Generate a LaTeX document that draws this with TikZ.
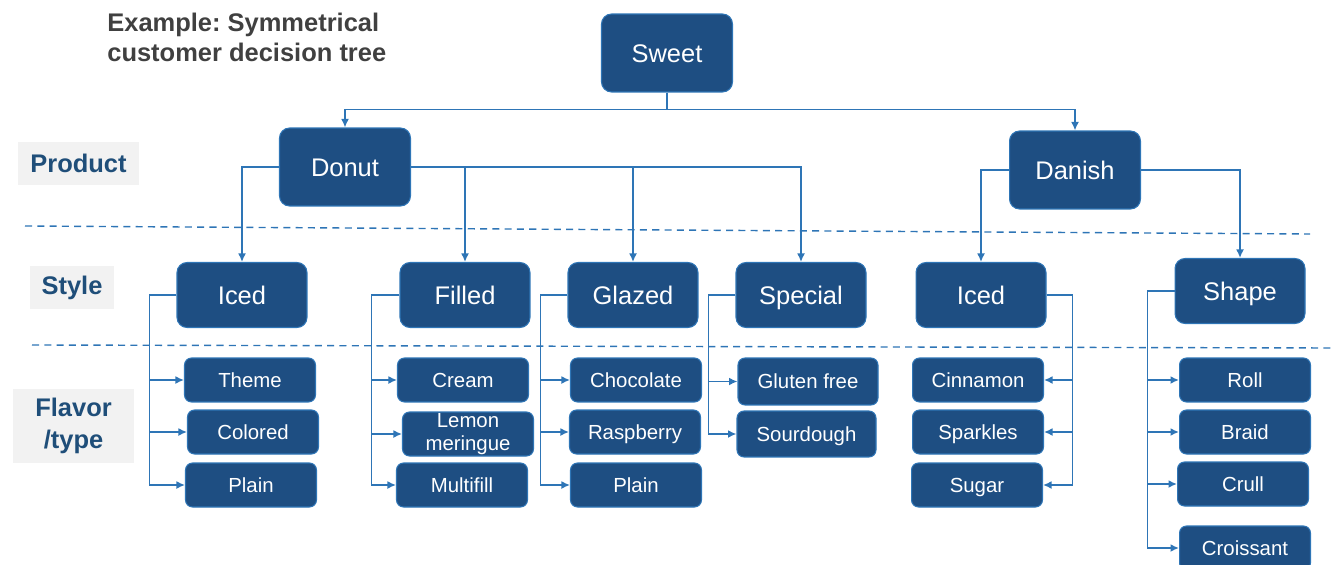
\documentclass[tikz,border=0pt]{standalone}
\usepackage{fontspec}
\setmainfont{Liberation Sans}
\usetikzlibrary{arrows.meta, positioning}
\frenchspacing
\definecolor{boxBlue}{HTML}{1E4E82}
\definecolor{edgeBlue}{HTML}{2E75B6}
\definecolor{labelBlue}{HTML}{1F4E79}
\definecolor{labelGray}{HTML}{F2F2F2}
\definecolor{titleGray}{HTML}{404040}
\tikzset{
    treeBox/.style={draw=edgeBlue, fill=boxBlue, text=white, line width=0.6pt, inner sep=0pt, minimum width=2.62cm, align=center, text depth=0pt},
    topBox/.style={treeBox, rounded corners=0.2cm, minimum height=1.56cm, text height=10.4pt, font=\fontsize{14.5}{17}\selectfont},
    styleBox/.style={treeBox, rounded corners=0.2cm, minimum width=2.6cm, minimum height=1.3cm, text height=10.4pt, font=\fontsize{14.5}{17}\selectfont},
    flavorBox/.style={treeBox, rounded corners=0.14cm, minimum height=0.88cm, text height=8.3pt, font=\fontsize{11.6}{13.4}\selectfont},
    rowLabel/.style={fill=labelGray, text=labelBlue, font=\bfseries\fontsize{14.5}{18}\selectfont, align=center, inner sep=0pt},
    linkArrow/.style={-{Latex[length=1.7mm, width=1.6mm]}, draw=edgeBlue, line width=1.1pt},
    rowSep/.style={draw=edgeBlue, dash pattern=on 4pt off 3pt, line width=0.8pt}
}

\begin{document}
\begin{tikzpicture}[x=0.02cm, y=-0.02cm]
    \useasboundingbox (0,0) rectangle (1334,564);
    \clip (0,0) rectangle (1334,564);

    % title and row labels
    \node[anchor=north west, inner sep=0pt, align=left, text=titleGray, font=\bfseries\fontsize{14.5}{17}\selectfont] (title) at (107,13) {Example: Symmetrical\\customer decision tree};
    \node[rowLabel, minimum width=2.42cm, minimum height=0.86cm] (labProduct) at (78.5,163.5) {Product};
    \node[rowLabel, minimum width=1.68cm, minimum height=0.86cm] (labStyle) at (72,287.5) {Style};
    \node[rowLabel, minimum width=2.42cm, minimum height=1.48cm] (labFlavor) at (73.5,426) {Flavor\\/type};

    % separators
    \draw[rowSep] (25,226) -- (1310,234);
    \draw[rowSep] (32,345) -- (1334,348);

    % top levels
    \node[topBox] (Sweet) at (667,53) {Sweet};
    \node[topBox] (Donut) at (345,167) {Donut};
    \node[topBox] (Danish) at (1075,170) {Danish};

    % styles
    \node[styleBox] (IcedD) at (242,295) {Iced};
    \node[styleBox] (Filled) at (465,295) {Filled};
    \node[styleBox] (Glazed) at (633,295) {Glazed};
    \node[styleBox] (Special) at (801,295) {Special};
    \node[styleBox] (IcedN) at (981,295) {Iced};
    \node[styleBox] (Shape) at (1240,291) {Shape};

    % flavors / types
    \node[flavorBox] (Theme) at (250,380) {Theme};
    \node[flavorBox] (Colored) at (253,432) {Colored};
    \node[flavorBox] (PlainI) at (251,485) {Plain};
    \node[flavorBox] (Cream) at (463,380) {Cream};
    \node[flavorBox, text height={}, text depth={}, font=\fontsize{11.6}{13.4}\selectfont] (Lemon) at (468,434) {Lemon\\meringue};
    \node[flavorBox] (Multifill) at (462,485) {Multifill};
    \node[flavorBox] (Chocolate) at (636,380) {Chocolate};
    \node[flavorBox] (Raspberry) at (635,432) {Raspberry};
    \node[flavorBox] (PlainG) at (636,485) {Plain};
    \node[flavorBox, minimum width=2.8cm, minimum height=0.94cm] (Gluten) at (808,381.5) {Gluten free};
    \node[flavorBox, minimum width=2.78cm, minimum height=0.92cm] (Sourdough) at (806.5,434) {Sourdough};
    \node[flavorBox] (Cinnamon) at (978,380) {Cinnamon};
    \node[flavorBox] (Sparkles) at (978,432) {Sparkles};
    \node[flavorBox] (Sugar) at (977,485) {Sugar};
    \node[flavorBox] (Roll) at (1245,380) {Roll};
    \node[flavorBox] (Braid) at (1245,432) {Braid};
    \node[flavorBox] (Crull) at (1243,484) {Crull};
    \node[flavorBox] (Croissant) at (1245,548) {Croissant};

    % sweet to products
    \draw[linkArrow] (Sweet.south) -- ++(0,17) -| (Donut.north);
    \draw[linkArrow] (Sweet.south) -- ++(0,17) -| (Danish.north);

    % products to styles
    \draw[linkArrow] (Donut.west) -| (IcedD.north);
    \draw[linkArrow] (Donut.east) -| (Filled.north);
    \draw[linkArrow] (Donut.east) -| (Glazed.north);
    \draw[linkArrow] (Donut.east) -| (Special.north);
    \draw[linkArrow] (Danish.west) -| (IcedN.north);
    \draw[linkArrow] (Danish.east) -| (Shape.north);

    % styles to flavors
    \draw[linkArrow] (IcedD.west) -- ++(-27,0) |- (Theme.west);
    \draw[linkArrow] (IcedD.west) -- ++(-27,0) |- (Colored.west);
    \draw[linkArrow] (IcedD.west) -- ++(-27,0) |- (PlainI.west);
    \draw[linkArrow] (Filled.west) -- ++(-28,0) |- (Cream.west);
    \draw[linkArrow] (Filled.west) -- ++(-28,0) |- (Lemon.west);
    \draw[linkArrow] (Filled.west) -- ++(-28,0) |- (Multifill.west);
    \draw[linkArrow] (Glazed.west) -- ++(-27,0) |- (Chocolate.west);
    \draw[linkArrow] (Glazed.west) -- ++(-27,0) |- (Raspberry.west);
    \draw[linkArrow] (Glazed.west) -- ++(-27,0) |- (PlainG.west);
    \draw[linkArrow] (Special.west) -- ++(-27,0) |- (Gluten.west);
    \draw[linkArrow] (Special.west) -- ++(-27,0) |- (Sourdough.west);
    \draw[linkArrow] (IcedN.east) -- ++(26,0) |- (Cinnamon.east);
    \draw[linkArrow] (IcedN.east) -- ++(26,0) |- (Sparkles.east);
    \draw[linkArrow] (IcedN.east) -- ++(26,0) |- (Sugar.east);
    \draw[linkArrow] (Shape.west) -- ++(-27,0) |- (Roll.west);
    \draw[linkArrow] (Shape.west) -- ++(-27,0) |- (Braid.west);
    \draw[linkArrow] (Shape.west) -- ++(-27,0) |- (Crull.west);
    \draw[linkArrow] (Shape.west) -- ++(-27,0) |- (Croissant.west);
\end{tikzpicture}
\end{document}
